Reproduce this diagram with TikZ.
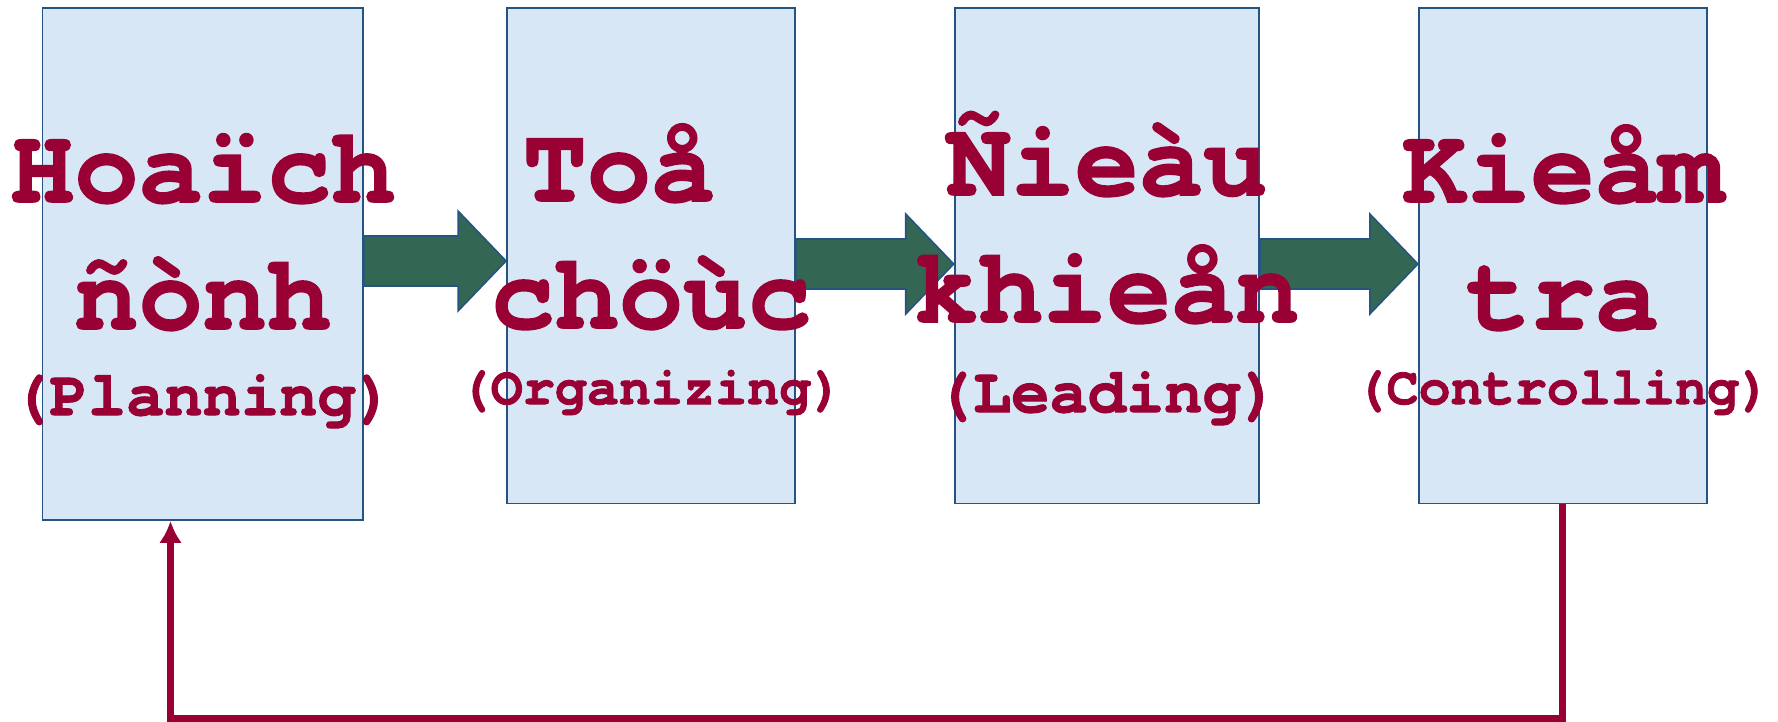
\documentclass[tikz,border=0pt]{standalone}
\usepackage{fontspec}
\setmonofont{TeX Gyre Cursor}[BoldFeatures={FakeBold=1.5}]
\usetikzlibrary{calc,arrows.meta,positioning}

\definecolor{stagered}{RGB}{153,0,51}
\definecolor{stagefill}{RGB}{216,231,246}
\definecolor{stageedge}{RGB}{38,84,130}
\definecolor{arrowgreen}{RGB}{51,102,83}

\tikzset{
  stage/.style={draw=stageedge, line width=1.1pt, fill=stagefill, inner sep=0pt,
    minimum width=5.76cm, minimum height=9.91cm},
  bigtext/.style={text=stagered, font=\ttfamily\bfseries\fontsize{60.9}{72.3}\selectfont,
    align=center, inner sep=0pt, anchor=base},
  subtext/.style={text=stagered, font=\ttfamily\bfseries\fontsize{36.3}{42}\selectfont,
    inner sep=0pt, anchor=base},
  smalltext/.style={subtext, font=\ttfamily\bfseries\fontsize{30.4}{36}\selectfont},
  fatarrow/.style={fill=arrowgreen, draw=stageedge, line width=0.9pt, line join=miter},
  feedback/.style={draw=stagered, line width=4pt, -{Latex[length=12.5pt,width=13pt]}}
}

% block arrow from one stage to the next, #3 = y of its axis
\newcommand\blockarrow[3]{%
  \filldraw[fatarrow] (#1.east |- 0,#3) ++(0,-25) -- ($(#2.west |- 0,#3)+(-48,-25)$)
    -- ++(0,-25) -- (#2.west |- 0,#3) -- ++(-48,50) -- ++(0,-25)
    -- ($(#1.east |- 0,#3)+(0,25)$) -- cycle;}

\begin{document}
\begin{tikzpicture}[x=0.02cm, y=-0.02cm, node distance=9.12cm]
  \useasboundingbox (0,0) rectangle (1778,721);

  % the four stages
  \node[stage, minimum width=6.41cm, minimum height=10.24cm] (plan) at (202.75,264) {};
  \node[stage] (org) at (651,255.8) {};
  \node[stage, minimum width=6.09cm] (lead) [right of=org] {};
  \node[stage] (ctrl) [right of=lead] {};

  \blockarrow{plan}{org}{261}
  \blockarrow{org}{lead}{264}
  \blockarrow{lead}{ctrl}{264}

  % feedback loop
  \draw[feedback] (ctrl.south) -- ++(0,214) -| ($(plan.south west)!0.4!(plan.south east)$);

  \node[bigtext] (plan-name) at ($(plan.north)+(0,322)$) {Hoaïch\\ñònh};
  \node[subtext] (plan-en) at ($(plan.north)+(0,408)$) {(Planning)};
  \node[bigtext] (org-name) at ($(org.north)+(0,321)$) {Toå\phantom{a}\\chöùc};
  \node[smalltext] (org-en) at ($(org.north)+(0,397)$) {(Organizing)};
  \node[bigtext] (lead-name) at ($(lead.north)+(0,315)$) {Ñieàu\\khieån};
  \node[subtext] (lead-en) at ($(lead.north)+(0,405)$) {(Leading)};
  \node[bigtext] (ctrl-name) at ($(ctrl.north)+(0,322)$) {Kieåm\\tra};
  \node[smalltext] (ctrl-en) at ($(ctrl.north)+(0,397)$) {(Controlling)};
\end{tikzpicture}
\end{document}
